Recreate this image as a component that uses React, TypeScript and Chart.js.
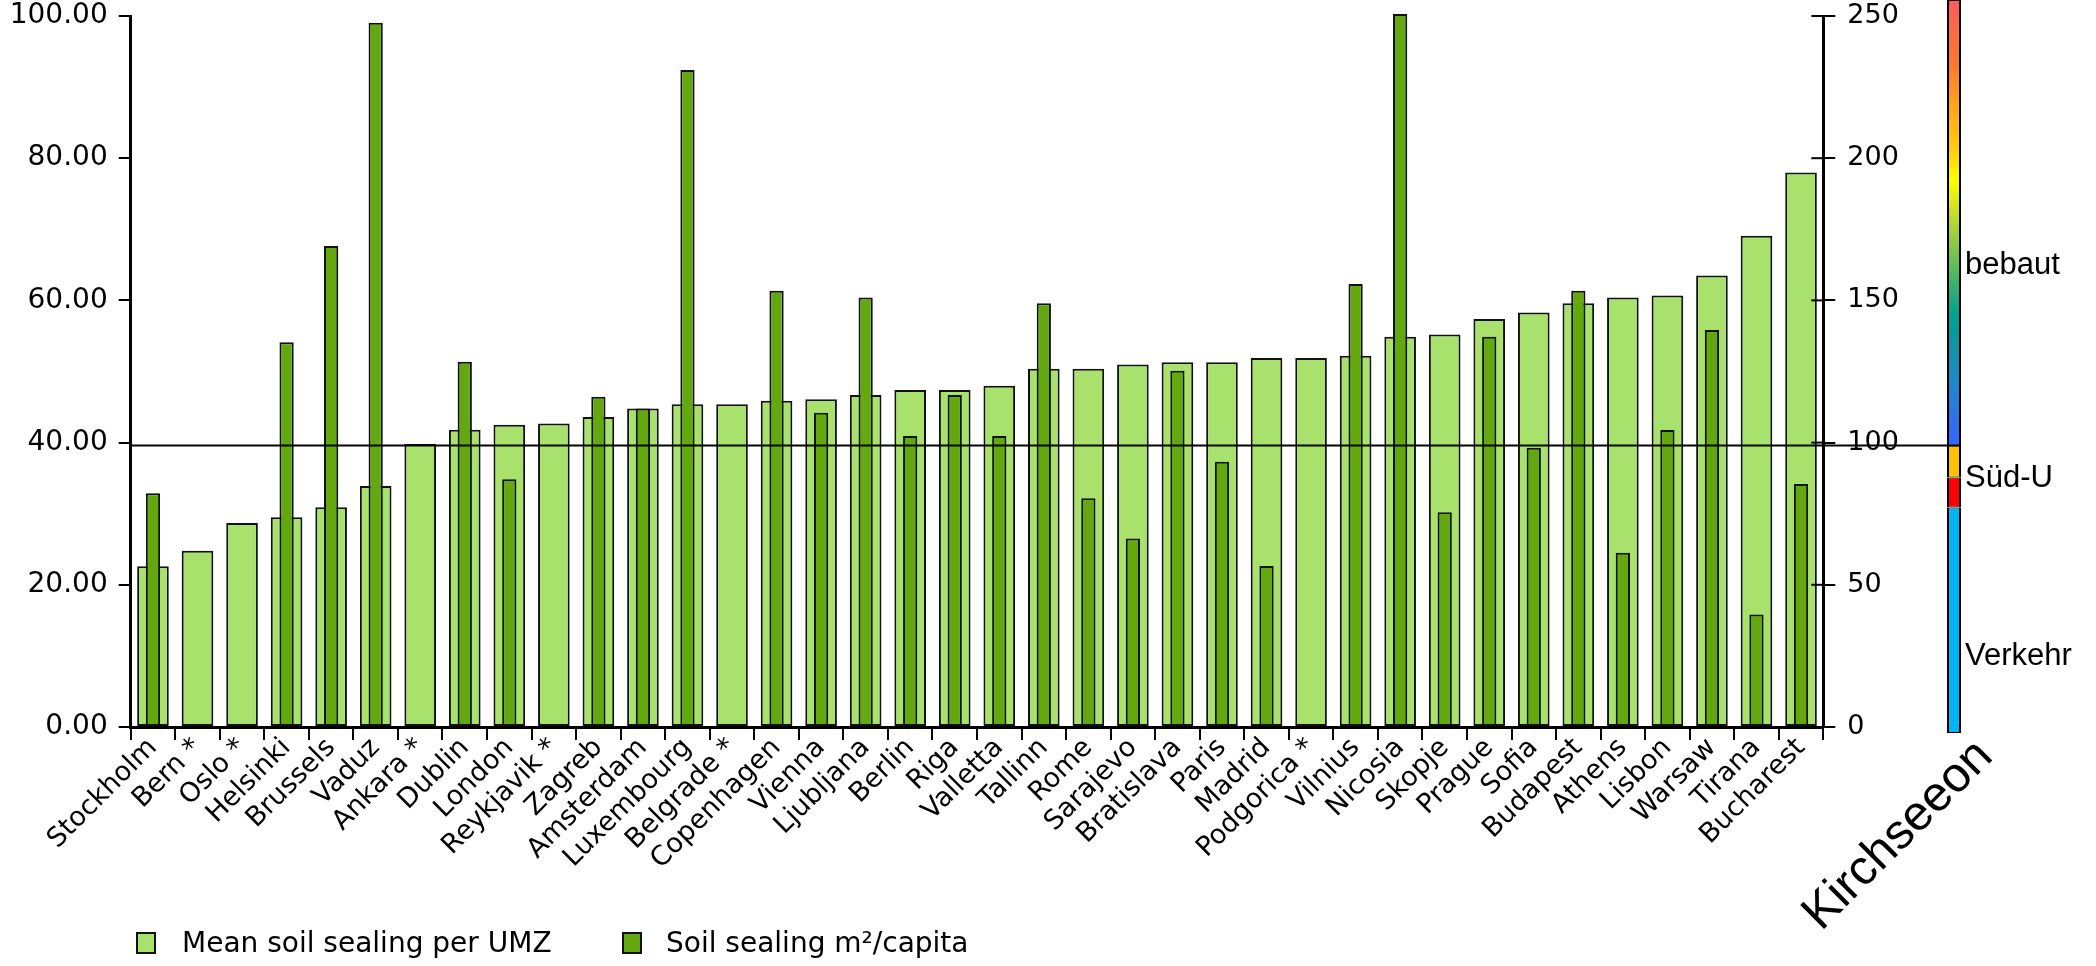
import React, { useEffect, useRef } from 'react';
import { Chart, registerables } from 'chart.js';

Chart.register(...registerables);

// ---------------- data ----------------
const cities = [
  'Stockholm', 'Bern *', 'Oslo *', 'Helsinki', 'Brussels', 'Vaduz', 'Ankara *', 'Dublin',
  'London', 'Reykjavik *', 'Zagreb', 'Amsterdam', 'Luxembourg', 'Belgrade *', 'Copenhagen',
  'Vienna', 'Ljubljana', 'Berlin', 'Riga', 'Valletta', 'Tallinn', 'Rome', 'Sarajevo',
  'Bratislava', 'Paris', 'Madrid', 'Podgorica *', 'Vilnius', 'Nicosia', 'Skopje', 'Prague',
  'Sofia', 'Budapest', 'Athens', 'Lisbon', 'Warsaw', 'Tirana', 'Bucharest',
];

// Mean soil sealing per UMZ (%), left axis
const meanSealingUMZ = [
  22.6, 24.8, 28.7, 29.5, 30.9, 33.9, 39.8, 41.8,
  42.5, 42.7, 43.6, 44.8, 45.4, 45.4, 45.9,
  46.1, 46.7, 47.4, 47.4, 48.0, 50.4, 50.4, 51.0,
  51.3, 51.3, 51.9, 51.9, 52.2, 54.9, 55.2, 57.4,
  58.3, 59.6, 60.4, 60.7, 63.5, 69.1, 78.0,
];

// Soil sealing m²/capita, right axis (null = no data, marked *)
const sealingPerCapita = [
  82.2, null, null, 135.3, 169.1, 247.6, null, 128.4,
  87.1, null, 116.1, 112.0, 231.0, null, 153.4,
  110.5, 151.0, 102.3, 116.7, 102.3, 149.0, 80.4, 66.3,
  125.3, 93.3, 56.6, null, 155.8, 250.7, 75.5, 137.2,
  98.2, 153.4, 61.3, 104.4, 139.6, 39.6, 85.4,
];

const leftTicks = [0, 20, 40, 60, 80, 100];
const rightTicks = [0, 50, 100, 150, 200, 250];

// Kirchseeon comparison column (m²/capita)
const kirchLabels = ['Kirchseeon'];
const kirchVerkehr = [77.5];
const kirchSuedURed = [10.3];
const kirchSuedUOrange = [11.0];
const kirchBebaut = [153.0];

const seriesNames = ['Mean soil sealing per UMZ', 'Soil sealing m\u00b2/capita'];

// ---------------- styles ----------------
const W = 2096;
const H = 966;
const LIGHT = '#a8e26c';
const DARK = '#62a80e';
const EDGE = '#111111';
const FONT = "'DejaVu Sans', Verdana, sans-serif";
const ARIAL = "'Liberation Sans', Arial, sans-serif";

const LEFT_AXIS_W = 130.7;
const RIGHT_AXIS_W = 100;
const PLOT_RIGHT = 1823.3;
const PLOT_TOP = 16;
const PLOT_BOTTOM = 727;

const gradientStops: [number, string][] = [
  [0, '#3366ff'],
  [0.064, '#2f72e6'],
  [0.14, '#2088c8'],
  [0.215, '#1292aa'],
  [0.29, '#02a08e'],
  [0.33, '#20a880'],
  [0.4, '#5cbc5c'],
  [0.477, '#a0d040'],
  [0.535, '#d2e222'],
  [0.596, '#ffff00'],
  [0.663, '#ffcc10'],
  [0.776, '#ffa020'],
  [0.85, '#ff7a30'],
  [1, '#ff5a5a'],
];

const zeroScalePadding = (s: any) => {
  s.paddingTop = 0;
  s.paddingBottom = 0;
};

// inner half of the right-axis tick marks (they cross the axis line)
const innerTicks = {
  id: 'innerTicks',
  afterDraw(chart: any) {
    const s = chart.scales.y2;
    if (!s) return;
    const ctx = chart.ctx;
    ctx.save();
    ctx.strokeStyle = '#000';
    ctx.lineWidth = 2;
    for (const v of rightTicks) {
      const y = s.getPixelForValue(v);
      ctx.beginPath();
      ctx.moveTo(s.left - 12, y);
      ctx.lineTo(s.left, y);
      ctx.stroke();
    }
    ctx.restore();
  },
};

const kirchDecor = {
  id: 'kirchDecor',
  afterDatasetsDraw(chart: any, _args: any, opts: any) {
    const ctx = chart.ctx;
    const ys = chart.scales.y;
    const meta = chart.getDatasetMeta(0);
    const bar = meta.data[0];
    if (!bar) return;
    const right = bar.x + bar.width / 2;
    const lower = kirchVerkehr[0] + kirchSuedURed[0] + kirchSuedUOrange[0];
    const yLine = ys.getPixelForValue(lower);
    ctx.save();
    ctx.strokeStyle = '#000';
    ctx.lineWidth = 2;
    ctx.beginPath();
    ctx.moveTo(opts.lineStart, yLine);
    ctx.lineTo(right, yLine);
    ctx.stroke();

    const cum = [0, kirchVerkehr[0], kirchVerkehr[0] + kirchSuedURed[0], lower, lower + kirchBebaut[0]];
    ctx.fillStyle = '#000';
    ctx.font = `31px ${ARIAL}`;
    ctx.textAlign = 'left';
    ctx.textBaseline = 'middle';
    for (const l of opts.labels) {
      const y0 = ys.getPixelForValue(cum[l.from]);
      const y1 = Math.max(ys.getPixelForValue(cum[l.to]), chart.chartArea.top);
      ctx.fillText(l.text, right + 4, (y0 + y1) / 2 + l.dy);
    }
    ctx.restore();
  },
};

export default function App() {
  const mainRef = useRef<HTMLCanvasElement>(null);
  const kRef = useRef<HTMLCanvasElement>(null);

  useEffect(() => {
    const tickFont = { family: FONT, size: 28 };
    const main = new Chart(mainRef.current!, {
      type: 'bar',
      data: {
        labels: cities,
        datasets: [
          {
            label: seriesNames[0],
            data: meanSealingUMZ,
            yAxisID: 'y',
            backgroundColor: LIGHT,
            borderColor: EDGE,
            borderWidth: 2,
            borderSkipped: false,
            barPercentage: 0.71,
            categoryPercentage: 1,
            grouped: false,
            order: 2,
          } as any,
          {
            label: seriesNames[1],
            data: sealingPerCapita,
            yAxisID: 'y2',
            backgroundColor: DARK,
            borderColor: EDGE,
            borderWidth: 2,
            borderSkipped: false,
            barPercentage: 0.32,
            categoryPercentage: 1,
            grouped: false,
            order: 1,
            clip: false,
          } as any,
        ],
      },
      options: {
        responsive: false,
        maintainAspectRatio: false,
        animation: false,
        layout: { padding: { top: PLOT_TOP, left: 0, bottom: 0, right: W - PLOT_RIGHT - RIGHT_AXIS_W } },
        plugins: { legend: { display: false }, tooltip: { enabled: false } },
        scales: {
          x: {
            offset: true,
            grid: { display: true, drawOnChartArea: false, drawTicks: true, tickLength: 13, color: '#000', lineWidth: 2, offset: true },
            border: { display: true, color: '#000', width: 3 },
            ticks: { autoSkip: false, minRotation: 45, maxRotation: 45, padding: -8, color: '#000', font: { family: FONT, size: 27 } },
            afterFit: (s: any) => { s.height = H - PLOT_BOTTOM; },
          },
          y: {
            position: 'left',
            min: 0,
            max: 100,
            afterBuildTicks: (s: any) => { s.ticks = leftTicks.map((v) => ({ value: v })); },
            ticks: { color: '#000', font: tickFont, padding: 11, callback: (v: any) => Number(v).toFixed(2) },
            grid: { drawOnChartArea: false, drawTicks: true, tickLength: 12, color: '#000', lineWidth: 2 },
            border: { display: true, color: '#000', width: 3 },
            afterFit: (s: any) => { s.width = LEFT_AXIS_W; zeroScalePadding(s); },
          },
          y2: {
            position: 'right',
            min: 0,
            max: 250,
            afterBuildTicks: (s: any) => { s.ticks = rightTicks.map((v) => ({ value: v })); },
            ticks: { color: '#000', font: { family: FONT, size: 27 }, padding: 12, callback: (v: any) => String(v) },
            grid: { drawOnChartArea: false, drawTicks: true, tickLength: 12, color: '#000', lineWidth: 2 },
            border: { display: true, color: '#000', width: 3 },
            afterFit: (s: any) => { s.width = RIGHT_AXIS_W; zeroScalePadding(s); },
          },
        },
      },
      plugins: [innerTicks],
    });

    const lowerTotal = kirchVerkehr[0] + kirchSuedURed[0] + kirchSuedUOrange[0];
    const kchart = new Chart(kRef.current!, {
      type: 'bar',
      data: {
        labels: kirchLabels,
        datasets: [
          { label: 'Verkehr', data: kirchVerkehr, backgroundColor: '#00b4f5' },
          { label: 'Süd-U', data: kirchSuedURed, backgroundColor: '#ff0000' },
          { label: 'Süd-U ', data: kirchSuedUOrange, backgroundColor: '#ffc000' },
          {
            label: 'bebaut',
            data: kirchBebaut,
            backgroundColor: (c: any) => {
              const ch = c.chart;
              if (!ch.chartArea) return '#5cbc5c';
              const ys = ch.scales.y;
              const b = ys.getPixelForValue(lowerTotal);
              const t = ys.getPixelForValue(lowerTotal + kirchBebaut[0]);
              const g = ch.ctx.createLinearGradient(0, b, 0, t);
              gradientStops.forEach(([p, col]) => g.addColorStop(p, col));
              return g;
            },
          },
        ].map((d) => ({
          ...d,
          borderColor: '#000',
          borderWidth: { left: 2, right: 2, top: 1, bottom: 1 },
          borderSkipped: false,
          barPercentage: 14 / 60,
          categoryPercentage: 1,
        })) as any,
      },
      options: {
        responsive: false,
        maintainAspectRatio: false,
        animation: false,
        layout: { padding: { left: 1924, right: W - 1984, top: 0, bottom: 0 } },
        plugins: {
          legend: { display: false },
          tooltip: { enabled: false },
          kirchDecor: {
            lineStart: LEFT_AXIS_W,
            labels: [
              { text: 'Verkehr', from: 0, to: 1, dy: 36 },
              { text: 'Süd-U', from: 1, to: 3, dy: 2 },
              { text: 'bebaut', from: 3, to: 4, dy: 43 },
            ],
          },
        } as any,
        scales: {
          x: {
            stacked: true,
            grid: { display: false },
            border: { display: false },
            ticks: { minRotation: 45, maxRotation: 45, padding: -13, labelOffset: 31, color: '#000', font: { family: ARIAL, size: 49 } },
            afterFit: (s: any) => { s.height = H - 733; },
          },
          y: {
            stacked: true,
            display: false,
            min: 0,
            max: lowerTotal + kirchBebaut[0],
          },
        },
      },
      plugins: [kirchDecor],
    });

    return () => {
      main.destroy();
      kchart.destroy();
    };
  }, []);

  const legendText: React.CSSProperties = {
    position: 'absolute',
    top: 926,
    fontFamily: FONT,
    fontSize: 28,
    lineHeight: '34px',
    color: '#000',
    whiteSpace: 'nowrap',
  };
  const legendBox: React.CSSProperties = {
    position: 'absolute',
    top: 932,
    width: 20,
    height: 22,
    border: `2px solid ${EDGE}`,
    boxSizing: 'border-box',
  };

  return (
    <div style={{ position: 'absolute', left: 0, top: 0, width: W, height: H, background: '#fff', overflow: 'hidden' }}>
      <canvas ref={mainRef} width={W} height={H} style={{ position: 'absolute', left: 0, top: 0, display: 'block' }} />
      <canvas ref={kRef} width={W} height={H} style={{ position: 'absolute', left: 0, top: 0, display: 'block' }} />
      <div style={{ ...legendBox, left: 136, background: LIGHT }} />
      <div style={{ ...legendText, left: 182 }}>{seriesNames[0]}</div>
      <div style={{ ...legendBox, left: 622, background: DARK }} />
      <div style={{ ...legendText, left: 666 }}>{seriesNames[1]}</div>
    </div>
  );
}
